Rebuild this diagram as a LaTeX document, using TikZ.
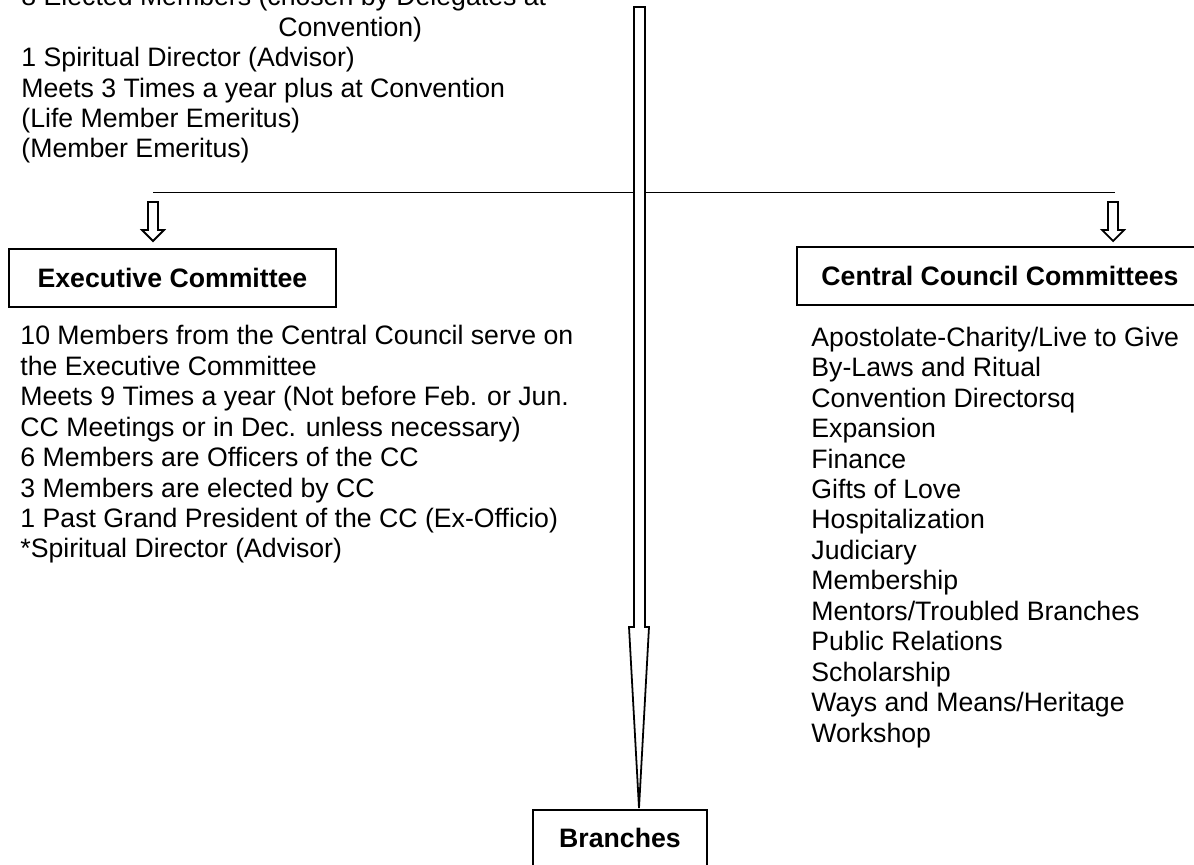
\documentclass[tikz,border=0pt]{standalone}
\usepackage{fontspec}
\setmainfont{Liberation Sans}
\begin{document}
\begin{tikzpicture}[x=0.45pt, y=-0.45pt,
    every node/.style={font=\fontsize{12}{13.7}\selectfont, inner sep=0pt},
    box/.style={draw, line width=0.9pt, font=\fontsize{12}{14}\selectfont\bfseries, minimum height=26.1pt},
    list/.style={anchor=base west, align=left},
    hollow/.style={draw, line width=0.8pt, fill=white, line join=miter}]
    \useasboundingbox (0,0) rectangle (1194,865);
    \node[list] (council) at (21,158) {8 Elected Members (chosen by Delegates at\\\hspace*{115.6pt}Convention)\\1 Spiritual Director (Advisor)\\Meets 3 Times a year plus at Convention\\(Life Member Emeritus)\\(Member Emeritus)};
    \node[box, minimum width=147.2pt] (exec) at (172.5,278) {Executive Committee};
    \node[box, minimum width=182.7pt] (ccc) at (1000,276) {Central Council Committees};
    \node[box, minimum width=78.3pt, minimum height=25.2pt] (branches) at (620,838) {Branches};
    \node[list] (execlist) at (20,558) {10 Members from the Central Council serve on\\the Executive Committee\\Meets 9 Times a year (Not before Feb. or Jun.\\CC Meetings or in Dec. unless necessary)\\6 Members are Officers of the CC\\3 Members are elected by CC\\1 Past Grand President of the CC (Ex-Officio)\\*Spiritual Director (Advisor)};
    \node[list] (ccclist) at (811,742) {Apostolate-Charity/Live to Give\\By-Laws and Ritual\\Convention Directorsq\\Expansion\\Finance\\Gifts of Love\\Hospitalization\\Judiciary\\Membership\\Mentors/Troubled Branches\\Public Relations\\Scholarship\\Ways and Means/Heritage\\Workshop};
    \coordinate (left) at (153,193);
    \coordinate (right) at (1115,193);
    \coordinate (tip) at (639,808);
    \draw[line width=0.45pt] (left) -- (right);
    \draw[hollow] (634,7) -- (645,7) -- (645,627) -- (649,627) -- (tip) -- (629,627) -- (634,627) -- cycle;
    \draw[hollow] (148,202) -- (158,202) -- (158,230) -- (164,230) -- (153,241) -- (142,230) -- (148,230) -- cycle;
    \draw[hollow] (1108,202) -- (1118,202) -- (1118,230) -- (1124,230) -- (1113,241) -- (1102,230) -- (1108,230) -- cycle;
\end{tikzpicture}
\end{document}
